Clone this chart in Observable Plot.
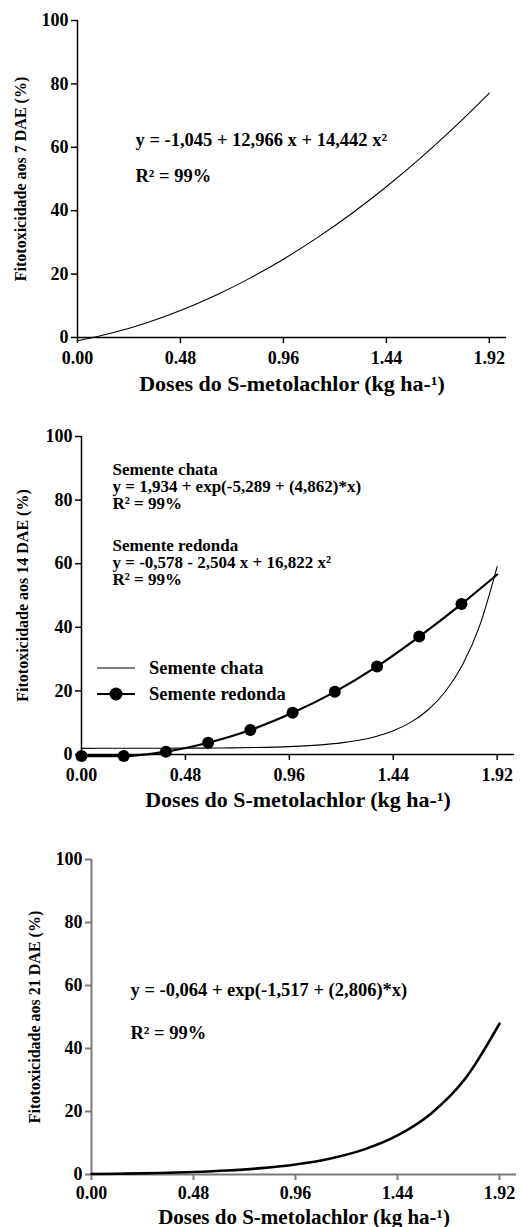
<!DOCTYPE html>
<html>
<head>
<meta charset="utf-8">
<script src="https://cdn.jsdelivr.net/npm/d3@7"></script>
<script src="https://cdn.jsdelivr.net/npm/@observablehq/plot@0.6"></script>
<style>
  html, body { margin: 0; padding: 0; background: #fff; }
  #wrap { position: relative; width: 524px; height: 1227px; overflow: hidden; }
  .pan { position: absolute; left: 0; }
  #legend { position: absolute; left: 0; top: 0; }
</style>
</head>
<body>
<div id="wrap"></div>
<script>
// ---------- data ----------
const xTicks = [0, 0.48, 0.96, 1.44, 1.92];
const yTicks = [0, 20, 40, 60, 80, 100];
const xTitle = "Doses do S-metolachlor (kg ha-¹)";

// Panel 1: 7 DAE
const dose7 = [0, 0.16, 0.32, 0.48, 0.64, 0.80, 0.96, 1.12, 1.28, 1.44, 1.60, 1.76, 1.92];
const fito7 = [-1.05, 1.40, 4.58, 8.51, 13.17, 18.57, 24.71, 31.59, 39.21, 47.57, 56.67, 66.51, 77.09];

// Panel 2: 14 DAE
const doseChata = [0, 0.16, 0.32, 0.48, 0.64, 0.80, 0.96, 1.12, 1.20, 1.28, 1.36, 1.44, 1.52, 1.60, 1.68, 1.76, 1.84, 1.92];
const fitoChata = [1.94, 1.95, 1.96, 1.99, 2.05, 2.18, 2.47, 3.10, 3.66, 4.48, 5.69, 7.48, 10.11, 14.00, 19.73, 28.19, 40.69, 59.10];
const doseRedondaPts = [0, 0.195, 0.39, 0.585, 0.78, 0.975, 1.17, 1.365, 1.56, 1.755];
const fitoRedondaPts = [-0.5, -0.5, 0.9, 3.7, 7.7, 13.1, 19.7, 27.7, 37.1, 47.3];
const doseRedondaEnd = [1.92];
const fitoRedondaEnd = [56.6];

// Panel 3: 21 DAE
const dose21 = [0, 0.16, 0.32, 0.48, 0.64, 0.80, 0.96, 1.12, 1.28, 1.44, 1.60, 1.76, 1.92];
const fito21 = [0.16, 0.28, 0.47, 0.78, 1.26, 2.01, 3.18, 5.02, 7.90, 12.41, 19.48, 30.55, 47.91];

const ann1 = ["y = -1,045 + 12,966 x + 14,442 x²", "R² = 99%"];
const ann2 = ["Semente chata", "y = 1,934 + exp(-5,289 + (4,862)*x)", "R² = 99%",
              "Semente redonda", "y = -0,578 - 2,504 x + 16,822 x²", "R² = 99%"];
const ann3 = ["y = -0,064 + exp(-1,517 + (2,806)*x)", "R² = 99%"];
const legendLabels = ["Semente chata", "Semente redonda"];

// ---------- helpers ----------
const FONT = "Liberation Serif";
const TXT = {fontFamily: FONT, fontWeight: "bold", fill: "black"};
const toRows = (xs, ys) => xs.map((x, i) => ({x, y: ys[i]}));

function frameMarks(axisColor, axisWidth, ytitle, ytitleDx, xtitleDy, tickPad = 8, titleSize = 22) {
  return [
    Plot.ruleX([0], {y1: 0, y2: 100, stroke: axisColor, strokeWidth: axisWidth}),
    Plot.ruleY([0], {x1: 0, x2: 2, stroke: axisColor, strokeWidth: axisWidth}),
    Plot.axisY({ticks: yTicks, tickSize: 6, tickPadding: 3, fontSize: 18, stroke: axisColor, strokeWidth: axisWidth, label: null, ...TXT}),
    Plot.axisX({ticks: xTicks, tickFormat: d => d.toFixed(2), tickSize: 6, tickPadding: tickPad, fontSize: 18, stroke: axisColor, strokeWidth: axisWidth, label: null, ...TXT}),
    Plot.text([xTitle], {frameAnchor: "bottom", lineAnchor: "bottom", dy: xtitleDy, fontSize: titleSize, ...TXT}),
    Plot.text([ytitle], {frameAnchor: "left", rotate: -90, textAnchor: "middle", lineAnchor: "middle", dx: ytitleDx, fontSize: 16, ...TXT})
  ];
}

function annot(lines, dx, dys, size) {
  return lines.map((t, i) => Plot.text([t], {frameAnchor: "top-left", textAnchor: "start", lineAnchor: "bottom", dx, dy: dys[i], fontSize: size, ...TXT}));
}

function makePanel({top, height, mt, mb, ml, mr, marks}) {
  const p = Plot.plot({
    width: 524, height,
    marginTop: mt, marginBottom: mb, marginLeft: ml, marginRight: mr,
    x: {domain: [0, 2], axis: null},
    y: {domain: [0, 100], axis: null},
    style: {fontFamily: FONT, fontWeight: "bold", color: "black", background: "transparent", overflow: "visible"},
    marks
  });
  const d = document.createElement("div");
  d.className = "pan";
  d.style.top = top + "px";
  d.appendChild(p);
  document.getElementById("wrap").appendChild(d);
}

// ---------- panel 1 ----------
makePanel({
  top: 0, height: 410, mt: 20, mb: 73, ml: 77, mr: 18,
  marks: [
    ...frameMarks("black", 1.5, "Fitotoxicidade aos 7 DAE (%)", -57, 53),
    Plot.line(toRows(dose7, fito7), {x: "x", y: "y", stroke: "black", strokeWidth: 1.1, curve: "monotone-x"}),
    ...annot(ann1, 58, [125, 161], 18.5)
  ]
});

// ---------- panel 2 ----------
const redondaLine = toRows(doseRedondaPts.concat(doseRedondaEnd), fitoRedondaPts.concat(fitoRedondaEnd));
makePanel({
  top: 410, height: 420, mt: 26, mb: 76, ml: 81, mr: 10,
  marks: [
    ...frameMarks("black", 1.5, "Fitotoxicidade aos 14 DAE (%)", -58.5, 52),
    Plot.line(toRows(doseChata, fitoChata), {x: "x", y: "y", stroke: "black", strokeWidth: 1.1, curve: "monotone-x"}),
    Plot.line(redondaLine, {x: "x", y: "y", stroke: "black", strokeWidth: 2.2, curve: "monotone-x"}),
    Plot.dot(toRows(doseRedondaPts, fitoRedondaPts), {x: "x", y: "y", r: 6, fill: "black", stroke: "none"}),
    ...annot(ann2, 31, [38, 55, 72, 114, 131, 148], 17)
  ]
});

// ---------- panel 3 ----------
makePanel({
  top: 830, height: 397, mt: 29, mb: 53, ml: 91, mr: 8,
  marks: [
    ...frameMarks("#7a7a7a", 2, "Fitotoxicidade aos 21 DAE (%)", -57, 49, 6, 21),
    Plot.line(toRows(dose21, fito21), {x: "x", y: "y", stroke: "black", strokeWidth: 2.6, curve: "monotone-x"}),
    ...annot(ann3, 39, [136, 179], 18.5)
  ]
});

// ---------- legend (panel 2) ----------
const lg = d3.create("svg").attr("id", "legend").attr("width", 524).attr("height", 1227);
const rows = [{y: 668, thick: false}, {y: 694, thick: true}];
rows.forEach((r, i) => {
  lg.append("line").attr("x1", 97).attr("x2", 135).attr("y1", r.y).attr("y2", r.y)
    .attr("stroke", "black").attr("stroke-width", r.thick ? 2.2 : 1.2);
  if (r.thick) lg.append("circle").attr("cx", 116).attr("cy", r.y).attr("r", 6.5).attr("fill", "black");
  lg.append("text").attr("x", 149).attr("y", r.y).attr("dy", "0.34em")
    .attr("font-family", FONT).attr("font-weight", "bold").attr("font-size", 18.5)
    .text(legendLabels[i]);
});
document.getElementById("wrap").appendChild(lg.node());
</script>
</body>
</html>
